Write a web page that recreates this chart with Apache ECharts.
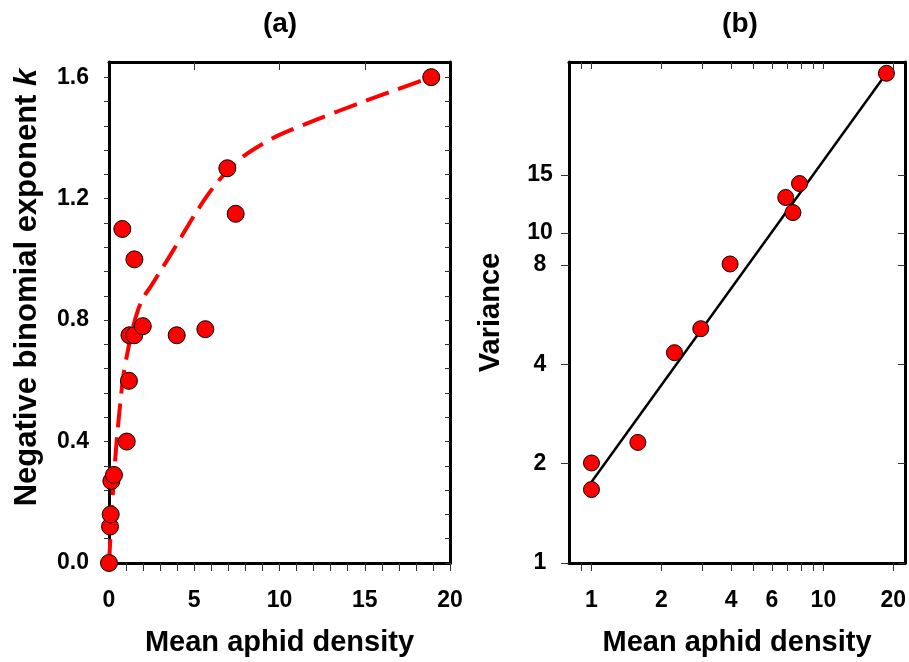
<!DOCTYPE html>
<html>
<head>
<meta charset="utf-8">
<script src="https://cdn.jsdelivr.net/npm/echarts@6/dist/echarts.min.js"></script>
<style>html,body{margin:0;padding:0;background:#fff}#c{width:909px;height:662px}</style>
</head>
<body>
<div id="c"></div>
<script>
// ---- Panel (a): negative binomial exponent k vs mean aphid density ----
const kDensity = [0, 0.06, 0.1, 0.14, 0.29, 1.04, 1.17, 1.2, 1.48, 1.98, 3.97, 5.65, 0.78, 1.49, 6.94, 7.43, 18.9];
const kValues  = [0, 0.12, 0.16, 0.27, 0.29, 0.40, 0.60, 0.75, 0.75, 0.78, 0.75, 0.77, 1.10, 1.00, 1.30, 1.15, 1.60];
const kFitX = [0, 0.06, 0.12, 0.18, 0.26, 0.35, 0.47, 0.65, 0.85, 1.11, 1.41, 1.70, 1.99, 2.5, 3.0, 3.5, 4.2, 5.0, 5.7, 6.3, 7.0, 7.9, 9.0, 10.0, 12.4, 14.7, 16.9, 18.9];
const kFitY = [0, 0.06, 0.125, 0.19, 0.257, 0.33, 0.415, 0.52, 0.62, 0.70, 0.777, 0.833, 0.872, 0.915, 0.96, 1.005, 1.07, 1.145, 1.205, 1.25, 1.295, 1.34, 1.38, 1.41, 1.465, 1.515, 1.56, 1.60];
const aXTicks = [0,1,2,3,4,5,6,7,8,9,10,11,12,13,14,15,16,17,18,19,20];
const aXLabels = [0, 5, 10, 15, 20];
const aXTopTicks = [5, 10, 15];
const aYTicks = [0,0.08,0.16,0.24,0.32,0.4,0.48,0.56,0.64,0.72,0.8,0.88,0.96,1.04,1.12,1.2,1.28,1.36,1.44,1.52,1.6];
const aYLabels = [0, 0.4, 0.8, 1.2, 1.6];

// ---- Panel (b): variance vs mean aphid density (log-log) ----
const vDensity = [1, 1, 1.585, 2.28, 2.96, 3.96, 6.88, 7.39, 7.89, 18.7];
const vValues  = [2.01, 1.67, 2.32, 4.34, 5.13, 8.06, 12.82, 11.54, 14.13, 30.5];
const vFitX = [1, 18.7];
const vFitY = [1.76, 30.5];
const bXTicks = [0.9, 1, 2, 3, 4, 5, 6, 7, 8, 9, 10, 20];
const bXLabels = [1, 2, 4, 6, 10, 20];
const bYTicks = [1, 2, 4, 8, 10, 15];
const bYLabels = [1, 2, 4, 8, 10, 15];

const FONT = 'Liberation Sans';
const zip = (a, b) => a.map((v, i) => [v, b[i]]);
const axisLine = { show: true, onZero: false, lineStyle: { color: '#000', width: 3 } };
const tickStyle = { color: '#333', width: 1 };
const labelStyle = { color: '#000', fontFamily: FONT, fontWeight: 'bold', fontSize: 23 };
const nameStyle = { color: '#000', fontFamily: FONT, fontWeight: 'bold', fontSize: 29 };

const chart = echarts.init(document.getElementById('c'), null, { renderer: 'canvas' });
chart.setOption({
  backgroundColor: '#fff',
  animation: false,
  title: [
    { text: '(a)', left: 275, top: 5, textAlign: 'center', textStyle: { fontFamily: FONT, fontWeight: 'bold', fontSize: 28, color: '#000' } },
    { text: '(b)', left: 735, top: 5, textAlign: 'center', textStyle: { fontFamily: FONT, fontWeight: 'bold', fontSize: 28, color: '#000' } }
  ],
  grid: [
    { left: 109, top: 62, width: 341, height: 501 },
    { left: 569, top: 62, width: 339, height: 501 }
  ],
  xAxis: [
    { type: 'value', gridIndex: 0, position: 'bottom', min: 0, max: 20,
      axisLine, splitLine: { show: false },
      axisTick: { show: true, inside: false, length: 8, lineStyle: tickStyle, customValues: aXTicks },
      axisLabel: { ...labelStyle, margin: 26, customValues: aXLabels },
      name: 'Mean aphid density', nameLocation: 'middle', nameGap: 65, nameTextStyle: nameStyle },
    { type: 'value', gridIndex: 0, position: 'top', min: 0, max: 20,
      axisLine, splitLine: { show: false },
      axisTick: { show: true, inside: true, length: 8, lineStyle: tickStyle, customValues: aXTopTicks },
      axisLabel: { show: false } },
    { type: 'log', logBase: 10, gridIndex: 1, position: 'bottom', min: 0.8, max: 22.5,
      axisLine, splitLine: { show: false }, minorTick: { show: false },
      axisTick: { show: true, inside: false, length: 8, lineStyle: tickStyle, customValues: bXTicks },
      axisLabel: { ...labelStyle, margin: 26, customValues: bXLabels },
      name: 'Mean aphid density', nameLocation: 'middle', nameGap: 65, nameTextStyle: nameStyle },
    { type: 'log', logBase: 10, gridIndex: 1, position: 'top', min: 0.8, max: 22.5,
      axisLine, splitLine: { show: false },
      axisTick: { show: true, inside: true, length: 7, lineStyle: tickStyle, customValues: bXTicks },
      axisLabel: { show: false } }
  ],
  yAxis: [
    { type: 'value', gridIndex: 0, position: 'left', min: 0, max: 1.65,
      axisLine, splitLine: { show: false },
      axisTick: { show: true, inside: false, length: 5, lineStyle: tickStyle, customValues: aYTicks },
      axisLabel: { ...labelStyle, margin: 20, customValues: aYLabels, formatter: v => Number(v).toFixed(1) },
      name: 'Negative binomial exponent {k|k}', nameLocation: 'middle', nameGap: 66,
      nameTextStyle: { ...nameStyle, fontSize: 31, padding: [0, 0, 0, 50],
        rich: { k: { fontFamily: FONT, fontWeight: 'bold', fontStyle: 'italic', fontSize: 31, color: '#000' } } } },
    { type: 'value', gridIndex: 0, position: 'right', min: 0, max: 1.65,
      axisLine, splitLine: { show: false },
      axisTick: { show: true, inside: true, length: 5, lineStyle: tickStyle, customValues: aYTicks },
      axisLabel: { show: false } },
    { type: 'log', logBase: 10, gridIndex: 1, position: 'left', min: 1, max: 33,
      axisLine, splitLine: { show: false },
      axisTick: { show: true, inside: false, length: 8, lineStyle: tickStyle, customValues: bYTicks },
      axisLabel: { ...labelStyle, margin: 29, align: 'center', customValues: bYLabels },
      name: 'Variance', nameLocation: 'middle', nameGap: 64, nameTextStyle: nameStyle },
    { type: 'log', logBase: 10, gridIndex: 1, position: 'right', min: 1, max: 33,
      axisLine, splitLine: { show: false },
      axisTick: { show: true, inside: true, length: 7, lineStyle: tickStyle, customValues: bYTicks },
      axisLabel: { show: false } }
  ],
  series: [
    { type: 'line', xAxisIndex: 0, yAxisIndex: 0, data: zip(kFitX, kFitY), showSymbol: false, smooth: 0.3,
      lineStyle: { color: '#ff0000', width: 4, type: [24, 10] }, z: 2, silent: true },
    { type: 'scatter', xAxisIndex: 0, yAxisIndex: 0, data: zip(kDensity, kValues), symbolSize: 17, clip: false,
      itemStyle: { color: '#ff0000', borderColor: '#000', borderWidth: 1, opacity: 1 }, z: 3 },
    { type: 'line', xAxisIndex: 2, yAxisIndex: 2, data: zip(vFitX, vFitY), showSymbol: false,
      lineStyle: { color: '#000', width: 2.5 }, z: 2, silent: true },
    { type: 'scatter', xAxisIndex: 2, yAxisIndex: 2, data: zip(vDensity, vValues), symbolSize: 16, clip: false,
      itemStyle: { color: '#ff0000', borderColor: '#000', borderWidth: 1, opacity: 1 }, z: 3 }
  ]
});
</script>
</body>
</html>
